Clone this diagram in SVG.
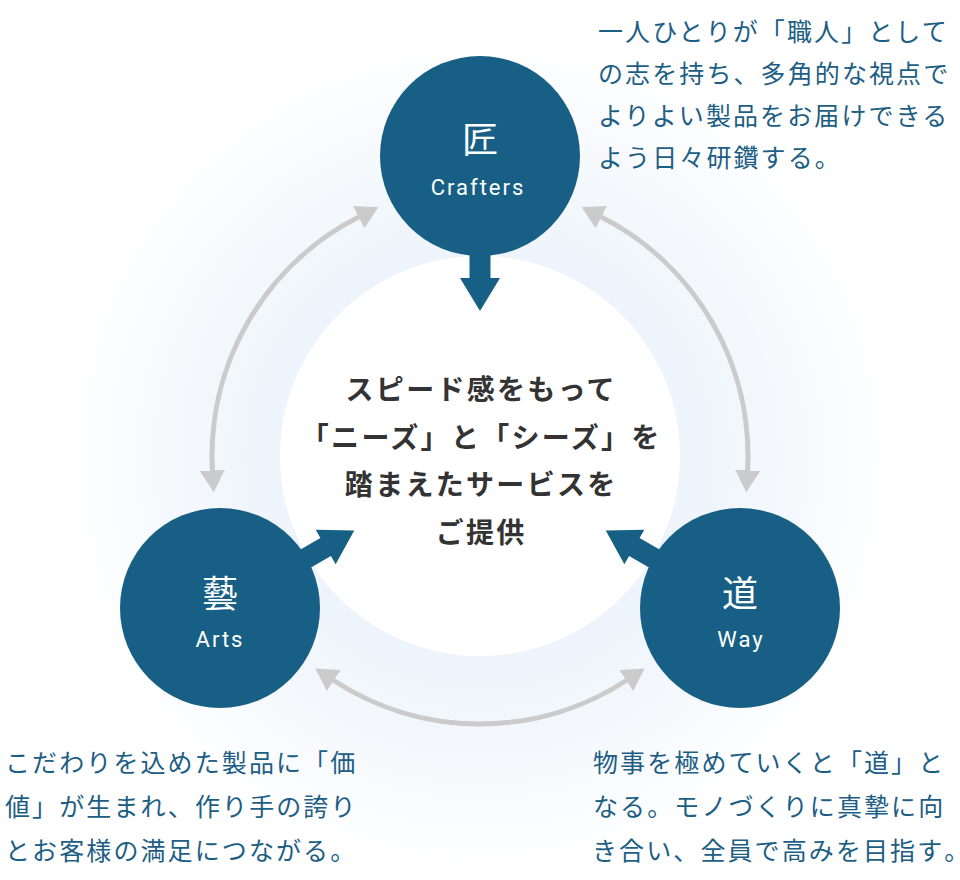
<svg xmlns="http://www.w3.org/2000/svg" width="960" height="880" viewBox="0 0 960 880">
<defs>
<radialGradient id="glow" gradientUnits="userSpaceOnUse" cx="480" cy="456" r="420">
<stop offset="0" stop-color="#ebf3fa"/>
<stop offset="0.47" stop-color="#edf4fb"/>
<stop offset="0.7" stop-color="#f4f8fc"/>
<stop offset="0.88" stop-color="#fbfcfe"/>
<stop offset="1" stop-color="#ffffff"/>
</radialGradient>
<marker id="ah" viewBox="0 -12.5 22 25" markerWidth="22" markerHeight="25" refX="1" refY="0" orient="auto-start-reverse" markerUnits="userSpaceOnUse">
<path d="M0,-12.5 L22,0 L0,12.5 Z" fill="#cbcbcb"/>
</marker>
<path id="barrow" d="M80,-10.5 H122 V-20 L155,0 L122,20 V10.5 H80 Z"/>
</defs>
<style>
.node{fill:#185f85}
.kanji{font-family:"Noto Sans CJK JP","Noto Sans CJK SC",sans-serif;font-size:36px;fill:#ffffff;text-anchor:middle}
.en{font-family:Roboto,"Liberation Sans",sans-serif;font-size:22px;fill:#ffffff;text-anchor:middle;letter-spacing:2px}
.desc{font-family:"Noto Sans CJK JP","Noto Sans CJK SC",sans-serif;font-size:25px;fill:#1d5e84;letter-spacing:2.1px}
.center{font-family:"Noto Sans CJK JP","Noto Sans CJK SC",sans-serif;font-size:28px;font-weight:bold;fill:#333333;text-anchor:middle;letter-spacing:2.3px}
.gray{fill:none;stroke:#cbcbcb;stroke-width:5;marker-start:url(#ah);marker-end:url(#ah)}
.barrow{fill:#185f85}
</style>
<rect width="960" height="880" fill="#ffffff"/>
<circle cx="480" cy="456" r="420" fill="url(#glow)"/>
<g id="core">
<circle cx="480" cy="456" r="200" fill="#ffffff"/>
<text class="center" x="481.2" y="400">スピード感をもって</text>
<text class="center" x="481.2" y="448">「ニーズ」と「シーズ」を</text>
<text class="center" x="481.2" y="495">踏まえたサービスを</text>
<text class="center" x="481.2" y="543">ご提供</text>
</g>
<g id="connectors">
<path class="gray" d="M212.5,471.4 A268,268 0 0 1 359.6,216.6"/>
<path class="gray" d="M747.5,471.4 A268,268 0 0 0 600.4,216.6"/>
<path class="gray" d="M332.9,680 A268,268 0 0 0 627.1,680"/>
<use href="#barrow" class="barrow" transform="translate(480,156) rotate(90)"/>
<use href="#barrow" class="barrow" transform="translate(220,608) rotate(-30)"/>
<use href="#barrow" class="barrow" transform="translate(740,608) rotate(-150)"/>
</g>
<g id="crafters">
<circle class="node" cx="480" cy="156" r="100"/>
<text class="kanji" x="480" y="153">匠</text>
<text class="en" x="478" y="195">Crafters</text>
</g>
<g id="arts">
<circle class="node" cx="220" cy="608" r="100"/>
<text class="kanji" x="220" y="607">藝</text>
<text class="en" x="220" y="647">Arts</text>
</g>
<g id="way">
<circle class="node" cx="740" cy="608" r="100"/>
<text class="kanji" x="740" y="607">道</text>
<text class="en" x="741" y="647">Way</text>
</g>
<g id="desc-crafters">
<text class="desc" x="598" y="41">一人ひとりが「職人」として</text>
<text class="desc" x="598" y="83">の志を持ち、多角的な視点で</text>
<text class="desc" x="598" y="125">よりよい製品をお届けできる</text>
<text class="desc" x="598" y="167">よう日々研鑽する。</text>
</g>
<g id="desc-arts">
<text class="desc" x="5" y="772">こだわりを込めた製品に「価</text>
<text class="desc" x="5" y="816">値」が生まれ、作り手の誇り</text>
<text class="desc" x="5" y="860">とお客様の満足につながる。</text>
</g>
<g id="desc-way">
<text class="desc" x="593" y="772">物事を極めていくと「道」と</text>
<text class="desc" x="593" y="816">なる。モノづくりに真摯に向</text>
<text class="desc" x="592" y="860" font-size="24.3" letter-spacing="1.9">き合い、全員で高みを目指す<tspan letter-spacing="0">。</tspan></text>
</g>
</svg>
